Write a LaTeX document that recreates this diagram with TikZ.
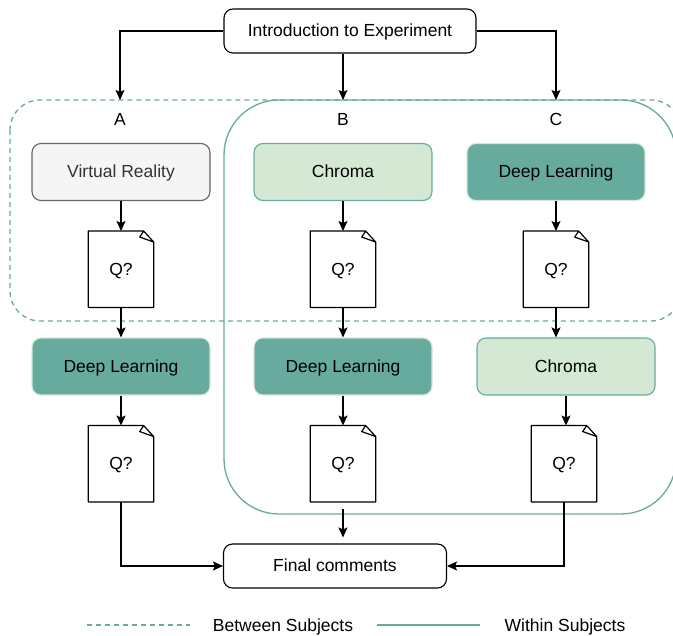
\documentclass[tikz,border=0pt]{standalone}
\usepackage{fontspec}
\setmainfont{Liberation Sans}
\usepackage{tikz}
\usetikzlibrary{arrows.meta,positioning}
\definecolor{sea}{HTML}{67AB9F}
\definecolor{mint}{HTML}{D5E8D4}
\definecolor{fog}{HTML}{F5F5F5}
\definecolor{slate}{HTML}{666666}
\definecolor{ink}{HTML}{333333}

\begin{document}
\begin{tikzpicture}[x=1pt, y=-1pt, node distance=30pt, every node/.style={font=\fontsize{17.5}{21}\selectfont, text height=13pt, text depth=1pt}, box/.style={draw, rounded corners=9pt, line width=1.1pt, minimum width=178pt, minimum height=57pt, align=center}, vrbox/.style={box, fill=fog, draw=slate, text=ink}, chromabox/.style={box, fill=mint, draw=sea}, deepbox/.style={box, fill=sea, draw=mint}, plain/.style={draw, rounded corners=9pt, line width=1.1pt, fill=white}, qdoc/.style={minimum width=65pt, minimum height=76pt, inner sep=0pt}, docline/.style={line width=1.2pt, line join=round}, arr/.style={-{Stealth[length=10pt,width=9pt,inset=2pt]}, line width=1.2pt}, between/.style={sea, line width=1.3pt, dash pattern=on 5pt off 4pt, rounded corners=30pt}, within/.style={sea, line width=1.3pt, rounded corners=55pt}]
\useasboundingbox (0,0) rectangle (673,636);
% groups
\draw[between] (10,100) rectangle (681,321);
\draw[within] (224,100) rectangle (676,514);
% start
\node[plain, minimum width=252pt, minimum height=44pt] (intro) at (350,31) {Introduction to Experiment};
\coordinate (topA) at (120,100);
\coordinate (topB) at (343,100);
\coordinate (topC) at (556,100);
\node (labA) at (120,120) {A};
\node (labB) at (343,120) {B};
\node (labC) at (556,120) {C};
% column A
\node[vrbox] (vr) at (121,172) {Virtual Reality};
\node[qdoc, below=of vr] (qa1) {Q?};
\node[deepbox, below=of qa1] (dla) {Deep Learning};
\node[qdoc, below=of dla] (qa2) {Q?};
% column B
\node[chromabox] (chb) at (343,172) {Chroma};
\node[qdoc, below=of chb] (qb1) {Q?};
\node[deepbox, below=of qb1] (dlb) {Deep Learning};
\node[qdoc, below=of dlb] (qb2) {Q?};
% column C
\node[deepbox] (dlc) at (556,172) {Deep Learning};
\node[qdoc, below=of dlc] (qc1) {Q?};
\node[chromabox, below=of qc1, xshift=10pt] (chc) {Chroma};
\node[qdoc, below=of chc, xshift=-2pt] (qc2) {Q?};
% end
\node[plain, minimum width=223pt, minimum height=44pt] (final) at (335,566) {Final comments};
% questionnaire sheets
\foreach \d in {qa1,qa2,qb1,qb2,qc1,qc2}
  \draw[docline] (\d.north west) -- ([xshift=-10pt]\d.north east) -- ([yshift=-11pt]\d.north east) -- (\d.south east) -- (\d.south west) -- cycle
    ([xshift=-10pt]\d.north east) -- ([xshift=-14pt,yshift=-6pt]\d.north east) -- ([yshift=-11pt]\d.north east);
% arrows
\draw[arr] (intro.west) -| (topA);
\draw[arr] (intro.south -| topB) -- (topB);
\draw[arr] (intro.east) -| (topC);
\foreach \a/\b in {vr/qa1, qa1/dla, dla/qa2, chb/qb1, qb1/dlb, dlb/qb2, dlc/qc1}
  \draw[arr] (\a) -- (\b);
\draw[arr] (qc1.south) -- (qc1.south |- chc.north);
\draw[arr] (chc.south) -- (chc.south |- qc2.north);
\draw[arr] (qa2.south) |- (final.west);
\draw[arr, shorten <=7pt, shorten >=6pt] (qb2.south) -- (qb2.south |- final.north);
\draw[arr] (qc2.south) |- (final.east);
% legend
\coordinate (bs1) at (87,625);
\coordinate (bs2) at (190,625);
\coordinate (ws1) at (377,625);
\coordinate (ws2) at (480,625);
\draw[between] (bs1) -- (bs2);
\draw[within] (ws1) -- (ws2);
\node (bslab) at (283,625) {Between Subjects};
\node (wslab) at (565,625) {Within Subjects};
\end{tikzpicture}
\end{document}
